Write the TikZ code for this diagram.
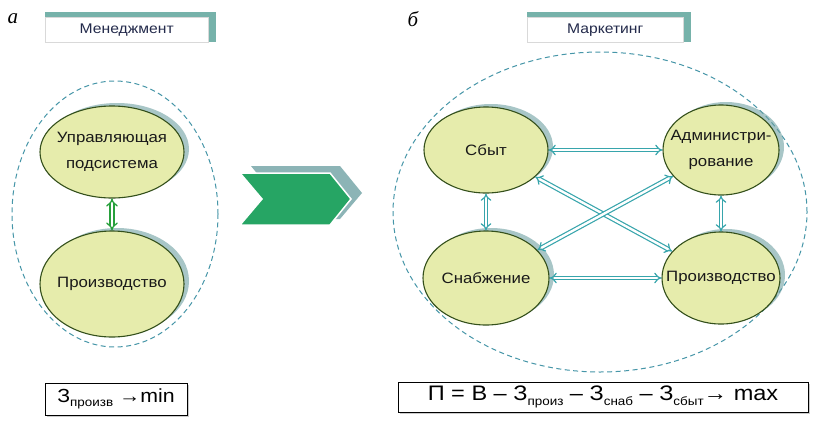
\documentclass[tikz,border=0pt]{standalone}
\usepackage{fontspec}
\setmainfont{Liberation Sans}
\newfontfamily\nodefont[FakeStretch=1.12]{Liberation Sans}
\newfontfamily\letterfont{Liberation Serif}
\usetikzlibrary{shapes.geometric,arrows.meta,shadows}
\definecolor{ellfill}{RGB}{230,236,172}
\definecolor{ellbord}{RGB}{52,80,28}
\definecolor{shadc}{RGB}{110,160,162}
\definecolor{dashteal}{RGB}{70,150,168}
\definecolor{arrteal}{RGB}{55,165,172}
\definecolor{arrgreen}{RGB}{40,160,60}
\definecolor{chevgreen}{RGB}{38,165,100}
\definecolor{chevshad}{RGB}{140,180,182}
\definecolor{hdrteal}{RGB}{118,178,170}
\definecolor{hdrtext}{RGB}{35,42,75}
\newcommand\subw[1]{\raisebox{-0.4ex}{\fontsize{12}{12}\selectfont #1}}
\tikzset{
  ell/.style={ellipse, draw=ellbord, fill=ellfill, line width=1.1pt, inner sep=0pt,
    drop shadow={shadow xshift=5pt, shadow yshift=3pt, fill=shadc, opacity=0.6}},
  txt/.style={font=\nodefont\fontsize{15}{26}\selectfont, align=center, text=black!90},
  bigell/.style={ellipse, draw=dashteal, dash pattern=on 5pt off 3.5pt, line width=1pt, inner sep=0pt},
  tealarr/.style={draw=arrteal, double=white, double distance=2.4pt, line width=1.2pt, {Implies}-{Implies}},
  greenarr/.style={draw=arrgreen, double=white, double distance=2.6pt, line width=1.3pt, {Implies}-{Implies}},
  hdrbox/.style={draw=black!15, fill=white, anchor=north west, inner sep=0pt, minimum height=25pt,
    font=\nodefont\fontsize{14}{16}\selectfont, text=hdrtext},
  formbox/.style={draw=black, line width=1pt, fill=white, inner sep=0pt,
    drop shadow={shadow xshift=2pt, shadow yshift=-2pt, fill=black!40, opacity=0.5}},
  letter/.style={font=\letterfont\itshape\fontsize{21}{21}\selectfont}
}
\begin{document}
\begin{tikzpicture}[x=1pt,y=-1pt]
\useasboundingbox (0,0) rectangle (818,426);
\fill[white] (0,0) rectangle (818,426);

% panel letters
\node[letter] (la) at (13,19) {а};
\node[letter] (lb) at (413,19) {б};

% headers
\fill[hdrteal] (45,12) rectangle (216,42);
\node[hdrbox, minimum width=163pt] (h1) at (45,17) {Менеджмент};
\fill[hdrteal] (527,12) rectangle (691,42);
\node[hdrbox, minimum width=156pt] (h2) at (527,17) {Маркетинг};

% dashed system boundaries
\node[bigell, minimum width=206pt, minimum height=266pt] (sys1) at (115,214) {};
\node[bigell, minimum width=414pt, minimum height=320pt] (sys2) at (600,212) {};

% left panel
\node[ell, minimum width=144pt, minimum height=92pt] (upr) at (112,152) {};
\node[txt] at (upr) {Управляющая\\подсистема};
\node[ell, minimum width=144pt, minimum height=106pt] (pr1) at (112,284) {};
\node[txt] at (pr1) {Производство};
\draw[greenarr] (upr) -- (pr1);

% chevron
\fill[chevshad] (251,166) -- (340,166) -- (362,193) -- (340,219) -- (251,219) -- (273,193) -- cycle;
\filldraw[fill=chevgreen, draw=white, line width=1.5pt] (240,173) -- (330,173) -- (351,199) -- (330,225) -- (240,225) -- (262,199) -- cycle;

% right panel
\node[ell, minimum width=124pt, minimum height=86pt] (sbyt) at (486,150) {};
\node[txt] at (sbyt) {Сбыт};
\node[ell, minimum width=116pt, minimum height=90pt] (adm) at (721,150) {};
\node[txt] at (adm) {Администри-\\рование};
\node[ell, minimum width=126pt, minimum height=94pt] (snab) at (486,278) {};
\node[txt] at (snab) {Снабжение};
\node[ell, minimum width=118pt, minimum height=92pt] (pr2) at (721,278) {};
\node[txt] at (pr2) {Производство};

\draw[tealarr] (sbyt) -- (adm);
\draw[tealarr] (snab) -- (pr2);
\draw[tealarr] (sbyt) -- (snab);
\draw[tealarr] (adm) -- (pr2);
\draw[tealarr] (sbyt) -- (pr2);
\draw[tealarr] (snab) -- (adm);

% formulas
\node[formbox, minimum width=142pt, minimum height=32pt, font=\nodefont\fontsize{19}{20}\selectfont] (f1) at (116,399)
  {З\subw{произв} →min};
\node[formbox, minimum width=410pt, minimum height=30pt, font=\nodefont\fontsize{21}{22}\selectfont] (f2) at (603,397)
  {П = В – З\subw{произ} – З\subw{снаб} – З\subw{сбыт}→ max};
\end{tikzpicture}
\end{document}
